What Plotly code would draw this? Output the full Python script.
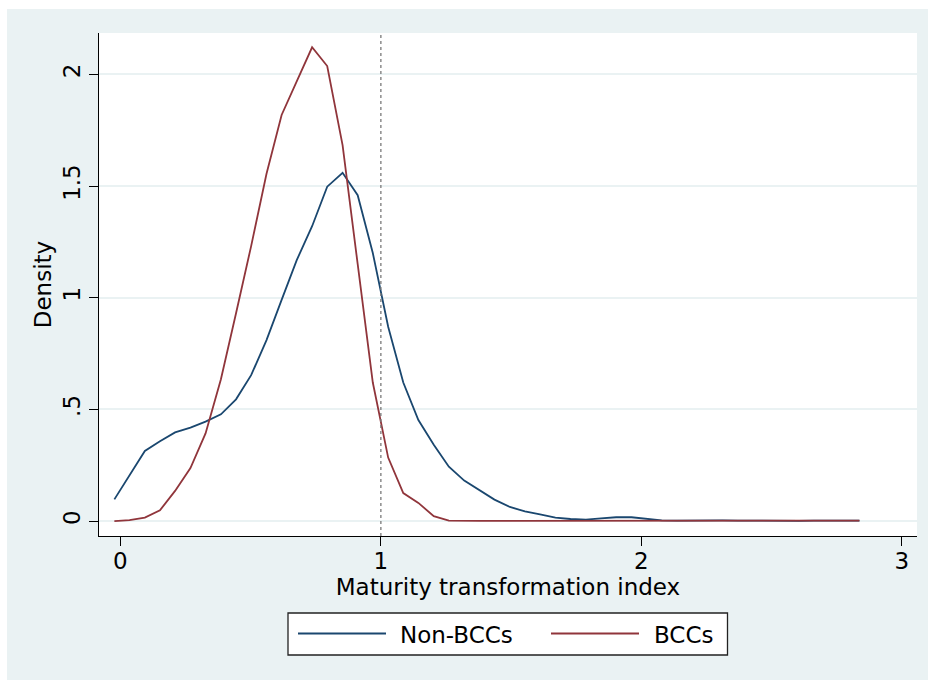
import plotly.graph_objects as go

# Kernel density estimates of the maturity transformation index (50 evaluation points)
mti_grid = [
    -0.023, 0.035, 0.094, 0.152, 0.210, 0.269, 0.327, 0.386, 0.444, 0.502,
    0.561, 0.619, 0.677, 0.736, 0.794, 0.853, 0.911, 0.969, 1.028, 1.086,
    1.144, 1.203, 1.261, 1.320, 1.378, 1.436, 1.495, 1.553, 1.611, 1.670,
    1.728, 1.787, 1.845, 1.903, 1.962, 2.020, 2.078, 2.137, 2.195, 2.254,
    2.312, 2.370, 2.429, 2.487, 2.545, 2.604, 2.662, 2.721, 2.779, 2.837,
]
density_non_bcc = [
    0.097, 0.205, 0.314, 0.357, 0.397, 0.418, 0.445, 0.478, 0.545, 0.653,
    0.810, 0.990, 1.168, 1.320, 1.497, 1.559, 1.459, 1.200, 0.870, 0.620,
    0.452, 0.342, 0.243, 0.181, 0.140, 0.096, 0.063, 0.043, 0.030, 0.015,
    0.009, 0.006, 0.012, 0.017, 0.017, 0.009, 0.003, 0.002, 0.003, 0.004,
    0.003, 0.002, 0.001, 0.001, 0.001, 0.001, 0.002, 0.003, 0.003, 0.002,
]
density_bcc = [
    0.000, 0.004, 0.015, 0.048, 0.135, 0.237, 0.392, 0.635, 0.930, 1.231,
    1.555, 1.818, 1.968, 2.121, 2.037, 1.683, 1.150, 0.620, 0.284, 0.125,
    0.081, 0.022, 0.002, 0.003, 0.001, 0.001, 0.001, 0.001, 0.001, 0.001,
    0.001, 0.001, 0.001, 0.001, 0.001, 0.001, 0.001, 0.001, 0.001, 0.001,
    0.001, 0.001, 0.001, 0.001, 0.001, 0.001, 0.001, 0.002, 0.002, 0.002,
]
series_names = ["Non-BCCs", "BCCs"]
series_colors = ["#1A476F", "#90353B"]
threshold = 1

x_ticks = [0, 1, 2, 3]
y_ticks = [0, 0.5, 1, 1.5, 2]
y_tick_text = ["0", ".5", "1", "1.5", "2"]

# Figure geometry (pixels)
W, H = 928, 680
ML, MR, MT, MB = 99, 11, 33, 144
PW, PH = W - ML - MR, H - MT - MB
BG = "#EAF2F3"
FONT = "DejaVu Sans"


def px(xp):
    return (xp - ML) / PW


def py(yp):
    return (H - MB - yp) / PH


fig = go.Figure()
for yvals, name, color in zip([density_non_bcc, density_bcc], series_names, series_colors):
    fig.add_trace(go.Scatter(
        x=mti_grid, y=yvals, mode="lines", name=name,
        line=dict(color=color, width=1.8), showlegend=False,
    ))

shapes = [
    # white page edge above and left of the graph region
    dict(type="rect", xref="paper", yref="paper", x0=px(0), x1=px(W), y0=py(9), y1=py(0),
         fillcolor="white", line=dict(width=0), layer="below"),
    dict(type="rect", xref="paper", yref="paper", x0=px(0), x1=px(7), y0=py(H), y1=py(0),
         fillcolor="white", line=dict(width=0), layer="below"),
    # reference line at index = 1
    dict(type="line", xref="x", yref="paper", x0=threshold, x1=threshold, y0=0, y1=1,
         line=dict(color="#7a7a7a", width=1.3, dash="dot")),
    # legend box
    dict(type="rect", xref="paper", yref="paper", x0=px(288), x1=px(727.5), y0=py(655), y1=py(613),
         fillcolor="white", line=dict(color="#222222", width=1.3)),
]

legend_items = [(298, 386, 398), (551, 639, 652)]
annotations = []
for (lx0, lx1, tx), name, color in zip(legend_items, series_names, series_colors):
    shapes.append(dict(type="line", xref="paper", yref="paper", x0=px(lx0), x1=px(lx1),
                       y0=py(633.5), y1=py(633.5), line=dict(color=color, width=1.8)))
    annotations.append(dict(xref="paper", yref="paper", x=px(tx), y=py(634.5), text=name,
                            showarrow=False, xanchor="left", yanchor="middle",
                            font=dict(family=FONT, size=23, color="black")))

axis_common = dict(
    showline=True, linecolor="black", linewidth=1.4,
    ticks="outside", ticklen=9, tickwidth=1.4, tickcolor="black",
    tickfont=dict(family=FONT, size=23, color="black"),
    zeroline=False, automargin=False,
)

fig.update_layout(
    width=W, height=H,
    margin=dict(l=ML, r=MR, t=MT, b=MB, pad=0),
    paper_bgcolor=BG, plot_bgcolor="white",
    showlegend=False,
    font=dict(family=FONT, size=23, color="black"),
    shapes=shapes, annotations=annotations,
    xaxis=dict(
        range=[-0.082, 3.058], tickvals=x_ticks, showgrid=False,
        ticklabelstandoff=-5,
        title=dict(text="Maturity transformation index", standoff=0,
                   font=dict(family=FONT, size=23, color="black")),
        **axis_common,
    ),
    yaxis=dict(
        range=[-0.067, 2.185], tickvals=y_ticks, ticktext=y_tick_text, tickangle=-90,
        showgrid=True, gridcolor=BG, gridwidth=1.6,
        title=dict(text="Density", standoff=0,
                   font=dict(family=FONT, size=23, color="black")),
        **axis_common,
    ),
)

fig.write_html("out.html")
